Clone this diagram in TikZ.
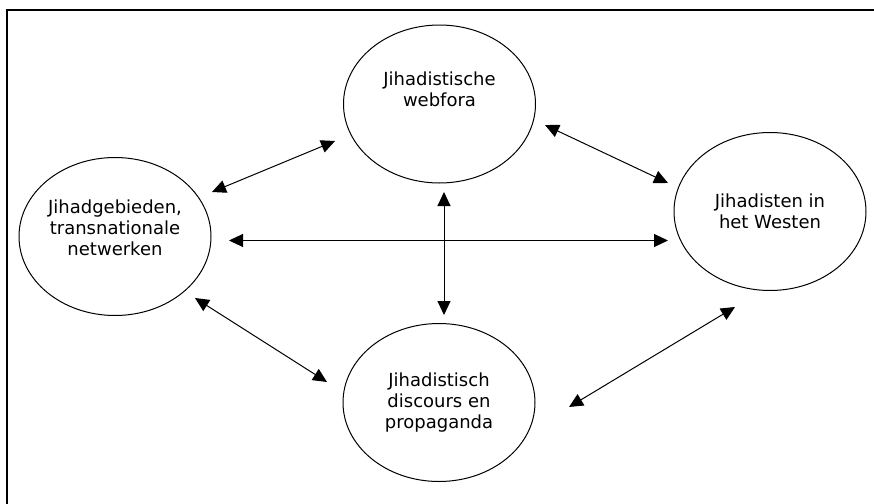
\documentclass[tikz,border=0pt]{standalone}
\usepackage{fontspec}
\setmainfont{DejaVu Sans}
\usetikzlibrary{shapes.geometric,arrows.meta}

\begin{document}
\begin{tikzpicture}[
        x=0.5pt, y=-0.5pt,
        actor/.style={ellipse, draw, line width=0.5pt, minimum width=96pt, minimum height=79pt, inner sep=0pt, align=center, font=\fontsize{9}{10.5}\selectfont},
        link/.style={{Triangle[length=7pt,width=6.5pt]}-{Triangle[length=7pt,width=6.5pt]}, line width=0.5pt},
    ]
        \useasboundingbox (0,0) rectangle (874,504);

        % Frame (only top and left edges)
        \draw[line width=1pt] (874,10) -- (7,10) -- (7,504);

        % Actors
        \node[actor] (webfora) at (439.5,104) {Jihadistische\\webfora\\[4pt]};
        \node[actor] (gebieden) at (115,236.5) {Jihadgebieden,\\transnationale\\netwerken\\[-2pt]};
        \node[actor] (westen) at (770,211.5) {Jihadisten in\\het Westen};
        \node[actor] (discours) at (439,402.5) {Jihadistisch\\discours en\\propaganda};

        % Arrow ends
        \coordinate (gebW) at (212,192);
        \coordinate (webG) at (335,141);
        \coordinate (webW) at (545,125);
        \coordinate (wesW) at (668,183);
        \coordinate (gebH) at (229,240.5);
        \coordinate (wesH) at (668,240.5);
        \coordinate (webD) at (444,192);
        \coordinate (disW) at (444,315);
        \coordinate (gebD) at (195,298);
        \coordinate (disG) at (327,382);
        \coordinate (wesD) at (735,307);
        \coordinate (disO) at (569,407);

        % Arrows
        \foreach \from/\to in {gebW/webG, webW/wesW, gebH/wesH, webD/disW, gebD/disG, wesD/disO} {
            \draw[link] (\from) -- (\to);
        }
\end{tikzpicture}
\end{document}
